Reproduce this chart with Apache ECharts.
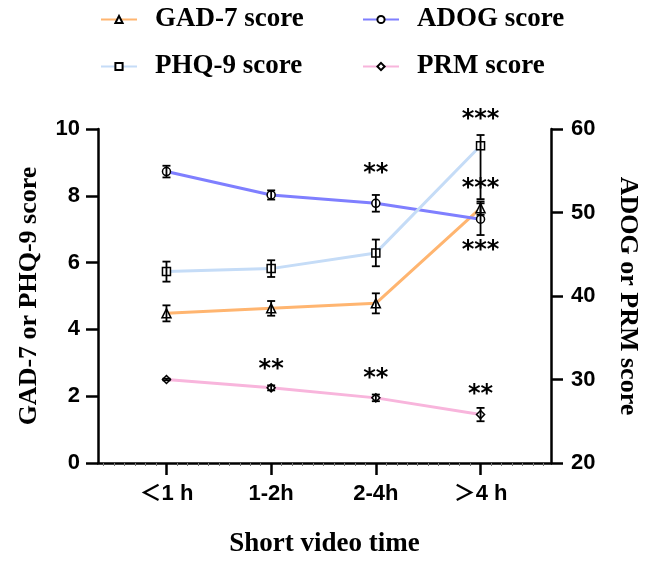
<!DOCTYPE html>
<html>
<head>
<meta charset="utf-8">
<script src="https://cdn.jsdelivr.net/npm/echarts@6/dist/echarts.min.js"></script>
<style>
html,body{margin:0;padding:0;background:#fff;overflow:hidden;}
#chart{width:649px;height:563px;}
</style>
</head>
<body>
<div id="chart"></div>
<script>
// ---- data ----
const categories = ['＜1 h', '1-2h', '2-4h', '＞4 h'];
const xTicks = [0, 1, 2, 3];
const leftTicks = [0, 2, 4, 6, 8, 10];
const rightTicks = [20, 30, 40, 50, 60];

const gad = [4.48, 4.63, 4.78, 7.63];
const gadLow = [4.24, 4.41, 4.48, 7.43];
const gadHigh = [4.72, 4.85, 5.08, 7.83];

const phq = [5.73, 5.82, 6.29, 9.50];
const phqLow = [5.43, 5.57, 5.89, 7.90];
const phqHigh = [6.03, 6.07, 6.69, 9.82];

const adog = [54.9, 52.1, 51.1, 49.2];
const adogLow = [54.2, 51.55, 50.1, 47.3];
const adogHigh = [55.6, 52.65, 52.1, 51.1];

const prm = [30.0, 29.0, 27.8, 25.8];
const prmLow = [29.9, 28.7, 27.4, 25.0];
const prmHigh = [30.1, 29.3, 28.2, 26.6];

// significance marks (category index, height on left axis)
const starText = ['***', '***', '***', '**', '**', '**', '**'];
const starX = [3, 3, 3, 2, 1, 2, 3];
const starY = [10.47, 8.40, 6.53, 8.84, 2.97, 2.70, 2.23];

// ---- chart ----
const SANS = "'Liberation Sans', Arial, 'Noto Sans CJK SC', sans-serif";
const SERIF = "'Liberation Serif', 'Times New Roman', serif";
const BLACK = '#000';

const chart = echarts.init(document.getElementById('chart'), null, {renderer: 'canvas', width: 649, height: 563});

const minorTicks = [];
for (let k = -6; k <= 36; k++) { if (k % 10 !== 0) minorTicks.push(k / 10); }

function pairs(arr) { return arr.map((v, i) => [i, v]); }
function errData(low, high) { return low.map((l, i) => [i, l, high[i]]); }

function errSeries(name, low, high, yIdx) {
  return {
    type: 'custom', name: name + ' err', yAxisIndex: yIdx, z: 5, silent: true,
    data: errData(low, high),
    encode: {x: 0, y: [1, 2]},
    renderItem: function (params, api) {
      const x = api.value(0);
      const p1 = api.coord([x, api.value(1)]);
      const p2 = api.coord([x, api.value(2)]);
      const w = 4;
      const st = {stroke: BLACK, lineWidth: 1.8};
      return {type: 'group', children: [
        {type: 'line', shape: {x1: p1[0], y1: p1[1], x2: p2[0], y2: p2[1]}, style: st},
        {type: 'line', shape: {x1: p1[0] - w, y1: p1[1], x2: p1[0] + w, y2: p1[1]}, style: st},
        {type: 'line', shape: {x1: p2[0] - w, y1: p2[1], x2: p2[0] + w, y2: p2[1]}, style: st}
      ]};
    }
  };
}

function lineSeries(name, data, color, symbol, size, yIdx) {
  return {
    type: 'line', name: name, yAxisIndex: yIdx, data: pairs(data),
    symbol: symbol, symbolSize: size, showAllSymbol: true,
    lineStyle: {color: color, width: 3},
    itemStyle: {color: '#fff', borderColor: BLACK, borderWidth: 1.5},
    emphasis: {disabled: true}, z: 3
  };
}

const legendText = {fontFamily: SERIF, fontWeight: 'bold', fontSize: 27, color: BLACK, padding: [0, 0, 0, 13]};
function legend(name, left, top) {
  return {data: [name], left: left, top: top, padding: 0, itemWidth: 36, itemHeight: 9,
    textStyle: legendText, selectedMode: false};
}

const option = {
  animation: false,
  backgroundColor: '#fff',
  legend: [
    legend('GAD-7 score', 100, 6),
    legend('ADOG score', 362, 6),
    legend('PHQ-9 score', 100, 53),
    legend('PRM score', 362, 53)
  ],
  grid: {left: 98, top: 129, width: 463, height: 337, containLabel: false},
  xAxis: [{
    type: 'value', min: -0.654, max: 3.673,
    name: 'Short video time', nameLocation: 'middle', nameGap: 68,
    nameTextStyle: {fontFamily: SERIF, fontWeight: 'bold', fontSize: 27, color: BLACK},
    axisLine: {show: true, onZero: false, lineStyle: {color: BLACK, width: 2.5}},
    axisTick: {show: true, customValues: xTicks, length: 12, lineStyle: {color: BLACK, width: 2.5}},
    axisLabel: {customValues: xTicks, formatter: v => categories[Math.round(v)], margin: 20,
      fontFamily: SANS, fontWeight: 'bold', fontSize: 22, color: BLACK},
    splitLine: {show: false}
  }, {
    type: 'value', min: -0.654, max: 3.673, position: 'bottom',
    axisLine: {show: false, onZero: false},
    axisTick: {show: true, customValues: minorTicks, length: 3, lineStyle: {color: '#777', width: 1}},
    axisLabel: {show: false}, splitLine: {show: false}
  }],
  yAxis: [{
    type: 'value', min: 0, max: 10, interval: 2, position: 'left',
    name: 'GAD-7 or PHQ-9 score', nameLocation: 'middle', nameRotate: 90, nameGap: 56,
    nameTextStyle: {fontFamily: SERIF, fontWeight: 'bold', fontSize: 26, color: BLACK},
    axisLine: {show: true, onZero: false, lineStyle: {color: BLACK, width: 2.5}},
    axisTick: {show: true, length: 12, lineStyle: {color: BLACK, width: 2.5}},
    axisLabel: {margin: 18, fontFamily: SANS, fontWeight: 'bold', fontSize: 22, color: BLACK},
    splitLine: {show: false}
  }, {
    type: 'value', min: 20, max: 60, interval: 10, position: 'right',
    name: 'ADOG or PRM score', nameLocation: 'middle', nameRotate: -90, nameGap: 64,
    nameTextStyle: {fontFamily: SERIF, fontWeight: 'bold', fontSize: 26, color: BLACK},
    axisLine: {show: true, onZero: false, lineStyle: {color: BLACK, width: 2.5}},
    axisTick: {show: true, length: 12, lineStyle: {color: BLACK, width: 2.5}},
    axisLabel: {margin: 20, fontFamily: SANS, fontWeight: 'bold', fontSize: 22, color: BLACK},
    splitLine: {show: false}
  }],
  series: [
    lineSeries('GAD-7 score', gad, '#FFB570', 'triangle', 9, 0),
    lineSeries('ADOG score', adog, '#7F7FFF', 'circle', 8, 1),
    lineSeries('PHQ-9 score', phq, '#C5DCF7', 'rect', 8, 0),
    lineSeries('PRM score', prm, '#F8B5DC', 'diamond', 8, 1),
    errSeries('GAD-7 score', gadLow, gadHigh, 0),
    errSeries('ADOG score', adogLow, adogHigh, 1),
    errSeries('PHQ-9 score', phqLow, phqHigh, 0),
    errSeries('PRM score', prmLow, prmHigh, 1),
    {
      type: 'custom', name: 'stars', yAxisIndex: 0, z: 6, silent: true, clip: false,
      data: starText.map((t, i) => [starX[i], starY[i]]),
      encode: {x: 0, y: 1},
      renderItem: function (params, api) {
        const p = api.coord([api.value(0), api.value(1)]);
        return {type: 'text', x: p[0], y: p[1] + 6,
          style: {text: starText[params.dataIndex], fontFamily: "'DejaVu Sans', sans-serif",
            fontWeight: 'bold', fontSize: 24, fill: BLACK, align: 'center', verticalAlign: 'middle'}};
      }
    }
  ]
};
chart.setOption(option);
</script>
</body>
</html>
